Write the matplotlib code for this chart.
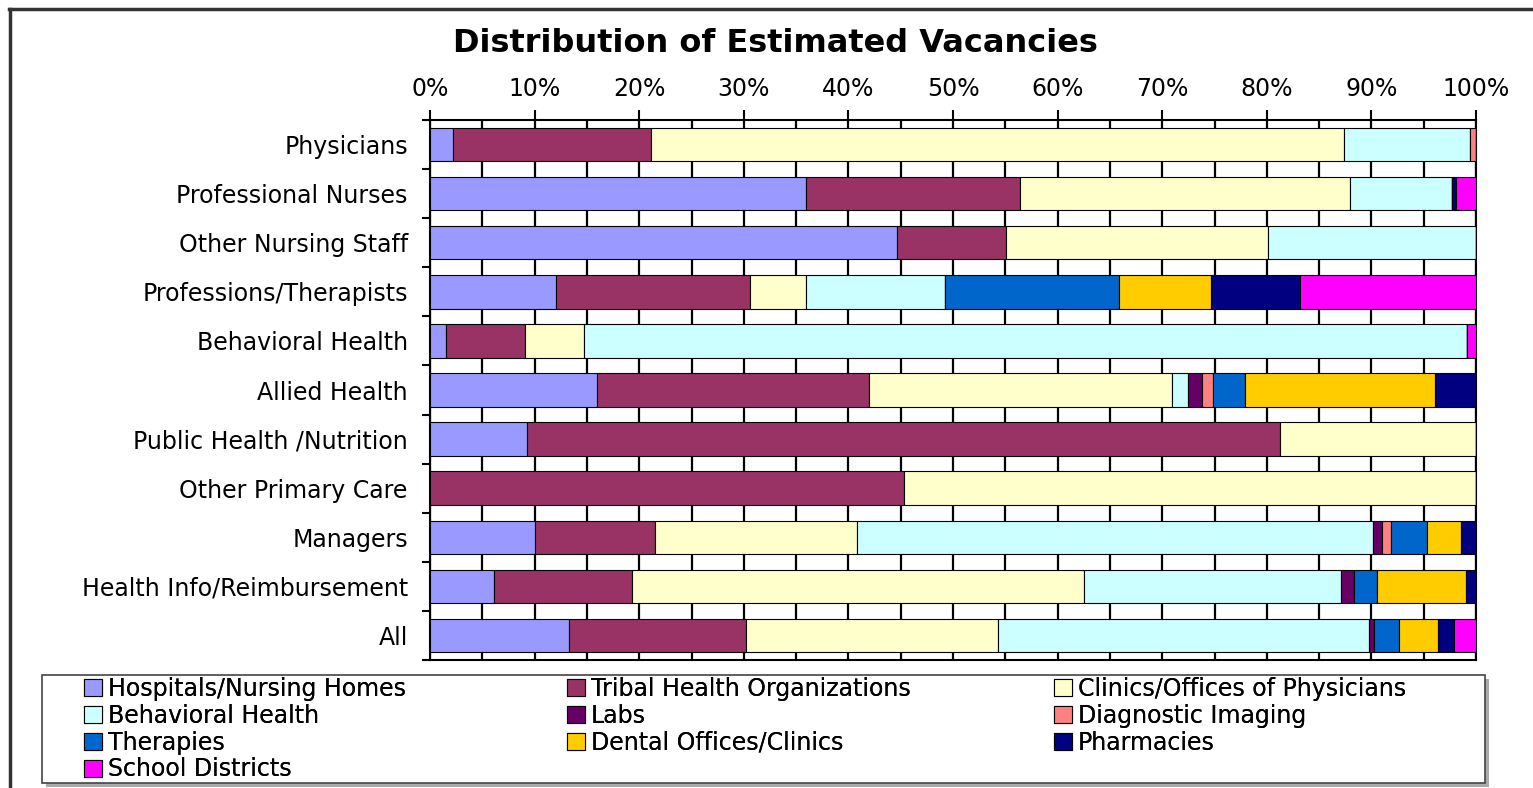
import matplotlib.pyplot as plt
import numpy as np
from matplotlib.lines import Line2D
from matplotlib.patches import Rectangle
from matplotlib.ticker import MultipleLocator, PercentFormatter

plt.rcParams['font.family'] = ['DejaVu Sans']

jobs = ["Physicians", "Professional Nurses", "Other Nursing Staff",
        "Professions/Therapists", "Behavioral Health", "Allied Health",
        "Public Health /Nutrition", "Other Primary Care", "Managers",
        "Health Info/Reimbursement", "All"]

employers = ["Hospitals/Nursing Homes", "Tribal Health Organizations",
             "Clinics/Offices of Physicians", "Behavioral Health", "Labs",
             "Diagnostic Imaging", "Therapies", "Dental Offices/Clinics",
             "Pharmacies", "School Districts"]

colors = ["#9999FF", "#993366", "#FFFFCC", "#CCFFFF", "#660066",
          "#FF8080", "#0066CC", "#FFCC00", "#000080", "#FF00FF"]

# percent of each job row, one list per employer type
hospitals  = [2.2, 35.9, 44.6, 12.0, 1.5, 16.0, 9.3, 0.0, 10.0, 6.1, 13.3]
tribal     = [18.9, 20.5, 10.5, 18.6, 7.6, 26.0, 72.0, 45.3, 11.5, 13.2, 16.9]
clinics    = [66.3, 31.6, 25.0, 5.3, 5.6, 28.9, 18.7, 54.7, 19.3, 43.2, 24.2]
behavioral = [12.0, 9.7, 19.9, 13.3, 84.4, 1.6, 0.0, 0.0, 49.4, 24.6, 35.5]
labs       = [0.0, 0.0, 0.0, 0.0, 0.0, 1.3, 0.0, 0.0, 0.8, 1.2, 0.4]
imaging    = [0.6, 0.0, 0.0, 0.0, 0.0, 1.1, 0.0, 0.0, 0.9, 0.0, 0.0]
therapies  = [0.0, 0.0, 0.0, 16.7, 0.0, 3.0, 0.0, 0.0, 3.4, 2.2, 2.4]
dental     = [0.0, 0.0, 0.0, 8.8, 0.0, 18.2, 0.0, 0.0, 3.3, 8.5, 3.8]
pharmacies = [0.0, 0.4, 0.0, 8.5, 0.0, 3.9, 0.0, 0.0, 1.4, 1.0, 1.5]
schools    = [0.0, 1.9, 0.0, 16.8, 0.9, 0.0, 0.0, 0.0, 0.0, 0.0, 2.1]

series = [hospitals, tribal, clinics, behavioral, labs, imaging,
          therapies, dental, pharmacies, schools]

W, H = 1533, 788
fig = plt.figure(figsize=(W / 100, H / 100), dpi=100)
ax = fig.add_axes([430 / W, 1 - 660 / H, 1046 / W, 540 / H])

y = np.arange(len(jobs))
data = np.array(series, dtype=float)
data = data / data.sum(axis=0) * 100
left = np.zeros(len(jobs))
handles = []
for name, vals, c in zip(employers, data, colors):
    ax.barh(y, vals, left=left, height=0.68, color=c, edgecolor="black",
            linewidth=0.8, zorder=3, label=name)
    left += vals
    handles.append(Rectangle((0, 0), 1, 1, facecolor=c, edgecolor="black", linewidth=0.8))

ax.set_xlim(0, 100)
ax.set_ylim(len(jobs) - 0.5, -0.5)
ax.xaxis.set_major_locator(MultipleLocator(10))
ax.xaxis.set_minor_locator(MultipleLocator(5))
ax.xaxis.set_major_formatter(PercentFormatter(decimals=0))
ax.grid(axis="x", which="both", color="black", linewidth=1.6, zorder=0)
ax.xaxis.tick_top()
ax.tick_params(axis="x", which="major", length=7, width=1.5, labelsize=17, pad=7)
ax.tick_params(axis="x", which="minor", length=0)

ax.set_yticks(y)
ax.set_yticklabels(jobs, fontsize=17)
ax.set_yticks(np.arange(len(jobs) + 1) - 0.5, minor=True)
ax.tick_params(axis="y", which="major", length=0, pad=16)
ax.tick_params(axis="y", which="minor", length=6, width=1.5)
for s in ax.spines.values():
    s.set_linewidth(1.5)

fig.text(775 / W, 1 - 43 / H, "Distribution of Estimated Vacancies",
         ha="center", va="center", fontsize=23, fontweight="bold")

# legend frame with shadow, then one legend per column
fig.add_artist(Rectangle((46 / W, 1 - 787 / H), 1443 / W, 108 / H,
                         transform=fig.transFigure, facecolor="#AAAAAA", edgecolor="none"))
fig.add_artist(Rectangle((42 / W, 1 - 783 / H), 1443 / W, 108 / H,
                         transform=fig.transFigure, facecolor="white",
                         edgecolor="#444444", linewidth=1.2))
columns = [[0, 3, 6, 9], [1, 4, 7], [2, 5, 8]]
col_x = [84, 567, 1054]
for idx, cx in zip(columns, col_x):
    leg = fig.legend([handles[i] for i in idx], [employers[i] for i in idx],
                     loc="upper left", bbox_to_anchor=(cx / W, 1 - 677 / H),
                     fontsize=17, frameon=False,
                     handlelength=0.75, handleheight=0.75, handletextpad=0.25,
                     labelspacing=0.12, borderpad=0, borderaxespad=0)
    fig.add_artist(leg)

# outer border of the chart area
fig.add_artist(Line2D([9 / W, 1], [1 - 9 / H, 1 - 9 / H], color="#333333", linewidth=2.5))
fig.add_artist(Line2D([10 / W, 10 / W], [0, 1 - 9 / H], color="#333333", linewidth=2.5))

fig.savefig("out.png", dpi=100)
